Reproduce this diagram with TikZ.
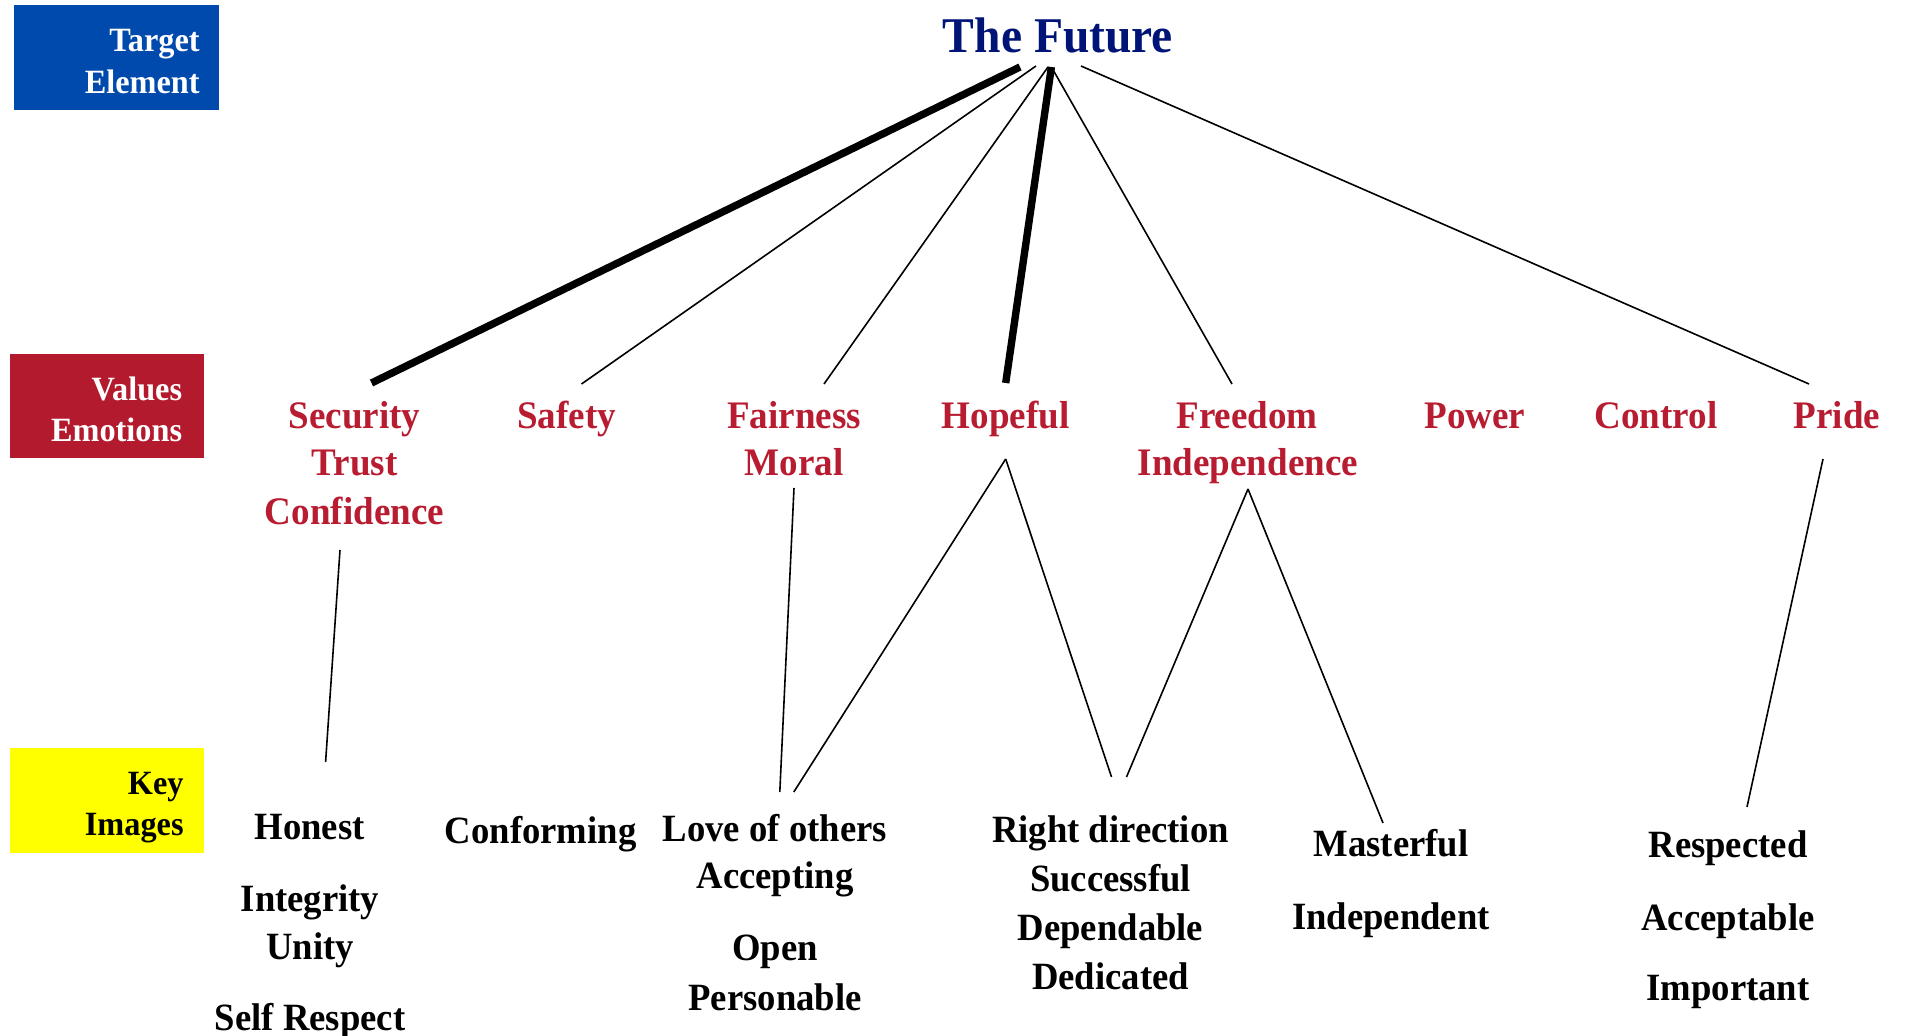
\documentclass[tikz,border=0pt]{standalone}
\usepackage{fontspec}
\setmainfont{Liberation Serif}[FakeStretch=0.95]
\usetikzlibrary{calc}
\definecolor{boxblue}{RGB}{0,74,173}
\definecolor{boxred}{RGB}{180,26,46}
\definecolor{valred}{RGB}{184,28,48}
\definecolor{navy}{RGB}{0,20,120}
\definecolor{keyyellow}{RGB}{255,255,0}
\begin{document}
\begin{tikzpicture}[x=0.5pt,y=-0.5pt,
  title/.style={font=\fontsize{25}{30}\selectfont\bfseries, text=navy, inner sep=0pt, anchor=base},
  val/.style={font=\fontsize{19.5}{23}\selectfont\bfseries, text=valred, inner sep=0pt, anchor=base},
  img/.style={font=\fontsize{19.3}{23}\selectfont\bfseries, text=black, inner sep=0pt, anchor=base},
  lab/.style={font=\fontsize{17}{20}\selectfont\bfseries, inner sep=0pt, anchor=base east},
  weak/.style={line width=0.8pt},
  strong/.style={line width=3.7pt}]
\useasboundingbox (0,0) rectangle (1919,1036);
% category boxes
\fill[boxblue] (13.9,5) rectangle (219,110);
\fill[boxred] (9.8,354) rectangle (204,458);
\fill[keyyellow] (9.8,748) rectangle (204,853);
\node[lab, text=white] (lt1) at (200,51.5) {Target};
\node[lab, text=white] (lt2) at (200,93.5) {Element};
\node[lab, text=white] (lv1) at (182.5,400.5) {Values};
\node[lab, text=white] (lv2) at (182.5,442) {Emotions};
\node[lab, text=black] (lk1) at (184,794.5) {Key};
\node[lab, text=black] (lk2) at (184,836) {Images};
% target
\node[title] (fut) at (1058,53) {The Future};
% values
\node[val] (sec) at (354.5,428.5) {Security};
\node[val] (trust) at (354.5,476) {Trust};
\node[val] (conf) at (354.5,525) {Confidence};
\node[val] (saf) at (566.5,428.5) {Safety};
\node[val] (fair) at (794,428.5) {Fairness};
\node[val] (moral) at (794,476) {Moral};
\node[val] (hope) at (1005.7,428.5) {Hopeful};
\node[val] (free) at (1247,428.5) {Freedom};
\node[val] (indep) at (1248,476) {Independence};
\node[val] (power) at (1475,428.5) {Power};
\node[val] (ctrl) at (1656,428.5) {Control};
\node[val] (pride) at (1837,428.5) {Pride};
% images
\node[img] (honest) at (309.6,839.5) {Honest};
\node[img] (integ) at (310,911.5) {Integrity};
\node[img] (unity) at (310,959.5) {Unity};
\node[img] (selfr) at (310,1030.5) {Self Respect};
\node[img] (conform) at (540.6,844) {Conforming};
\node[img] (love) at (774.8,841.5) {Love of others};
\node[img] (accept) at (775,888.5) {Accepting};
\node[img] (open) at (775,960.5) {Open};
\node[img] (person) at (775,1010.5) {Personable};
\node[img] (right) at (1110.5,843) {Right direction};
\node[img] (succ) at (1110.5,892) {Successful};
\node[img] (depend) at (1110.5,941) {Dependable};
\node[img] (dedic) at (1110.5,990) {Dedicated};
\node[img] (master) at (1391,857) {Masterful};
\node[img] (indepi) at (1391,930) {Independent};
\node[img] (resp) at (1728,857.5) {Respected};
\node[img] (accbl) at (1728,930.5) {Acceptable};
\node[img] (import) at (1728,1000.5) {Important};
% connectors: target to values
\draw[strong] ($(fut.base)+(-38,14)$) -- ($(sec.base)+(17,-45.5)$);
\draw[weak] ($(fut.base)+(-22,13)$) -- ($(saf.base)+(15,-44.5)$);
\draw[weak] ($(fut.base)+(-10,14)$) -- ($(fair.base)+(30,-44.5)$);
\draw[strong] ($(fut.base)+(-6.6,14)$) -- ($(hope.base)+(0,-45.5)$);
\draw[weak] ($(fut.base)+(-6,15)$) -- ($(free.base)+(-15,-44.5)$);
\draw[weak] ($(fut.base)+(23,13)$) -- ($(pride.base)+(-28,-44.5)$);
% connectors: values to images
\draw[weak] ($(conf.base)+(-14.5,25)$) -- ($(honest.base)+(16,-77.5)$);
\draw[weak] ($(moral.base)+(0,12)$) -- ($(love.base)+(5,-49.5)$);
\draw[weak] ($(hope.base)+(0,30.5)$) -- ($(love.base)+(19,-49.5)$);
\draw[weak] ($(hope.base)+(0,30.5)$) -- ($(right.base)+(1,-66)$);
\draw[weak] ($(indep.base)+(0,13)$) -- ($(right.base)+(16,-66)$);
\draw[weak] ($(indep.base)+(0,13)$) -- ($(master.base)+(-8,-34)$);
\draw[weak] ($(pride.base)+(-14,30.5)$) -- ($(resp.base)+(19,-50.5)$);
\end{tikzpicture}
\end{document}
